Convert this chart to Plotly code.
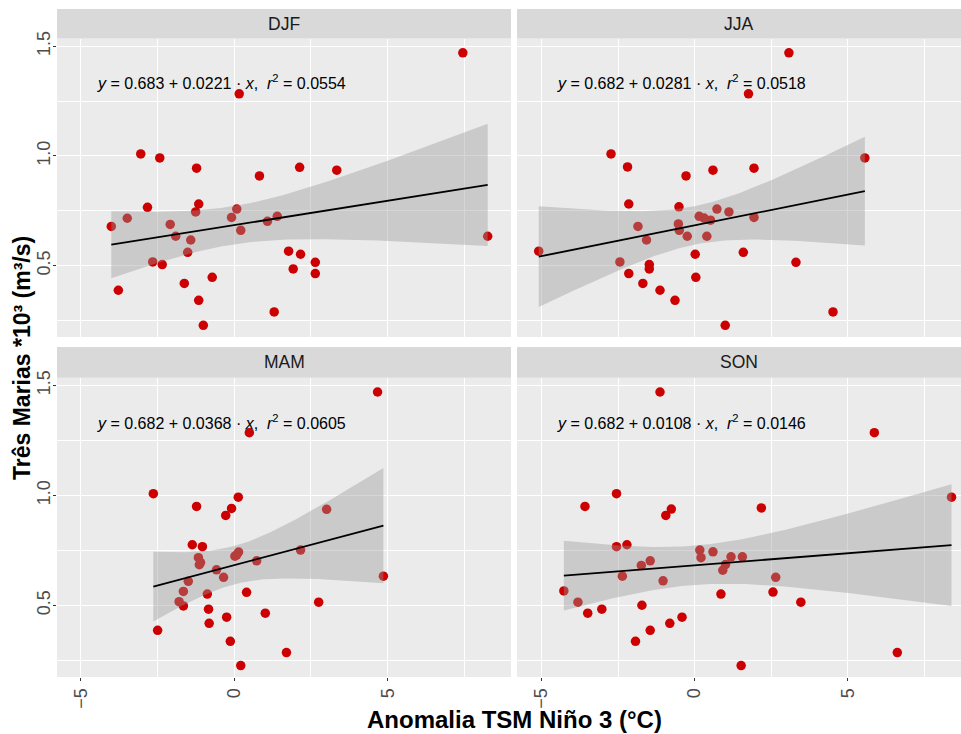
import numpy as np
import plotly.graph_objects as go

# ---------------- data ----------------
seasons = ["DJF", "JJA", "MAM", "SON"]

djf_x = [7.45, 0.16, -3.05, -2.43, -1.23, 2.13, 3.34, 0.82, -2.83, -1.16, -1.26, 0.08,
         -4.01, -3.49, -2.09, -0.09, -1.91, -1.42, 0.21, 1.08, 1.40, 8.26, -1.52, 1.77,
         2.16, 2.64, -2.66, -2.35, 1.92, 2.64, -0.72, -1.63, -3.78, -1.16, 1.30, -1.01]
djf_y = [1.47, 1.283, 1.009, 0.991, 0.944, 0.948, 0.935, 0.909, 0.766, 0.781, 0.745, 0.758,
         0.679, 0.716, 0.688, 0.720, 0.634, 0.617, 0.661, 0.702, 0.725, 0.634, 0.561, 0.566,
         0.552, 0.515, 0.517, 0.505, 0.485, 0.464, 0.447, 0.419, 0.388, 0.342, 0.289, 0.228]

jja_x = [3.08, 1.76, -2.73, -2.19, 5.56, -0.28, 0.60, 1.94, -2.15, -0.51, 0.73, 1.12,
         0.15, 0.31, 0.52, 1.94, -1.85, -0.53, -0.50, -1.57, -0.24, 0.40, -5.09, 1.59,
         0.02, 3.31, -2.44, -1.48, -1.48, -2.15, 0.04, -1.69, -1.13, -0.64, 4.52, 1.00]
jja_y = [1.47, 1.283, 1.009, 0.950, 0.991, 0.909, 0.935, 0.944, 0.781, 0.768, 0.758, 0.745,
         0.725, 0.717, 0.707, 0.720, 0.679, 0.690, 0.661, 0.617, 0.634, 0.634, 0.566, 0.561,
         0.552, 0.515, 0.517, 0.505, 0.485, 0.464, 0.447, 0.419, 0.388, 0.342, 0.289, 0.228]

mam_x = [4.67, 0.49, -2.64, 0.13, -1.23, -0.09, -0.28, 3.01, -1.37, -1.04, 2.16, 0.14,
         0.02, -1.17, -1.14, 0.73, -0.58, -0.35, -1.50, 4.86, -1.66, 0.40, -0.88, -1.80,
         2.75, -1.66, -0.84, 1.01, -0.25, -0.82, -2.50, -0.13, 1.70, 0.21, 0.08, -1.10]
mam_y = [1.47, 1.285, 1.008, 0.992, 0.950, 0.941, 0.909, 0.937, 0.776, 0.767, 0.752, 0.743,
         0.724, 0.717, 0.685, 0.703, 0.662, 0.628, 0.610, 0.633, 0.564, 0.560, 0.552, 0.517,
         0.515, 0.498, 0.483, 0.465, 0.447, 0.419, 0.387, 0.337, 0.286, 0.227, 0.730, 0.695]

son_x = [-1.13, 5.87, -2.55, -3.58, 8.39, -0.76, -0.94, 2.18, -2.55, -2.21, 0.17, 0.60,
         0.21, 1.19, 1.56, -1.45, -1.74, 1.01, 0.92, -2.36, 2.65, -1.03, -4.27, 0.86,
         2.56, -3.81, 3.47, -3.03, -1.72, -3.49, -0.41, -0.81, -1.45, -1.93, 6.62, 1.52]
son_y = [1.47, 1.285, 1.008, 0.950, 0.992, 0.938, 0.909, 0.943, 0.767, 0.776, 0.752, 0.744,
         0.717, 0.721, 0.721, 0.703, 0.682, 0.686, 0.660, 0.633, 0.628, 0.612, 0.566, 0.552,
         0.561, 0.515, 0.515, 0.483, 0.501, 0.465, 0.447, 0.419, 0.387, 0.337, 0.286, 0.227]

eq_intercept = ["0.683", "0.682", "0.682", "0.682"]
eq_slope = ["0.0221", "0.0281", "0.0368", "0.0108"]
eq_r2 = ["0.0554", "0.0518", "0.0605", "0.0146"]

x_ticks = [-5, 0, 5]
y_ticks = [0.5, 1.0, 1.5]

series = {"DJF": (djf_x, djf_y), "JJA": (jja_x, jja_y),
          "MAM": (mam_x, mam_y), "SON": (son_x, son_y)}

# ---------------- layout geometry ----------------
W, H = 961, 734
FONT = "Arial, Liberation Sans, sans-serif"
T_CRIT = 2.03

def px_x(p):
    return p / W

def px_y(p):
    return 1 - p / H

col_dom = [[px_x(57), px_x(511)], [px_x(517), 1.0]]
row_dom = [[px_y(337), px_y(38.5)], [px_y(677), px_y(377.7)]]
strip_y = [[px_y(38.5), px_y(9)], [px_y(377.7), px_y(347)]]
x_ranges = [[-5.78, 9.02], [-5.80, 8.70]]
y_range = [0.175, 1.535]

fig = go.Figure()
annotations = []
shapes = []

for i, season in enumerate(seasons):
    r, c = divmod(i, 2)
    k = i + 1
    xa = "x" if k == 1 else f"x{k}"
    ya = "y" if k == 1 else f"y{k}"
    xs = np.array(series[season][0], dtype=float)
    ys = np.array(series[season][1], dtype=float)

    fig.add_trace(go.Scatter(x=xs, y=ys, mode="markers", xaxis=xa, yaxis=ya,
                             marker=dict(color="#CC0000", size=9.5, line=dict(width=0)),
                             showlegend=False, hoverinfo="skip"))

    # linear fit with 95% confidence band (like geom_smooth(method="lm"))
    n = len(xs)
    b1, b0 = np.polyfit(xs, ys, 1)
    resid = ys - (b0 + b1 * xs)
    s = np.sqrt(np.sum(resid ** 2) / (n - 2))
    xbar = xs.mean()
    sxx = np.sum((xs - xbar) ** 2)
    xg = np.linspace(xs.min(), xs.max(), 80)
    yg = b0 + b1 * xg
    se = s * np.sqrt(1 / n + (xg - xbar) ** 2 / sxx)
    lo, hi = yg - T_CRIT * se, yg + T_CRIT * se

    fig.add_trace(go.Scatter(x=np.concatenate([xg, xg[::-1]]),
                             y=np.concatenate([hi, lo[::-1]]),
                             fill="toself", fillcolor="rgba(153,153,153,0.4)",
                             line=dict(width=0), mode="lines", xaxis=xa, yaxis=ya,
                             showlegend=False, hoverinfo="skip"))
    fig.add_trace(go.Scatter(x=xg, y=yg, mode="lines", xaxis=xa, yaxis=ya,
                             line=dict(color="black", width=1.8),
                             showlegend=False, hoverinfo="skip"))

    eq = (f"<i>y</i> = {eq_intercept[i]} + {eq_slope[i]} · <i>x</i>,  "
          f"<i>r</i><sup>2</sup> = {eq_r2[i]}")
    annotations.append(dict(x=-4.55, y=1.335, xref=xa, yref=ya, text=eq,
                            showarrow=False, xanchor="left", yanchor="middle",
                            font=dict(family=FONT, size=16, color="black")))

    # strip
    shapes.append(dict(type="rect", xref="paper", yref="paper",
                       x0=col_dom[c][0], x1=col_dom[c][1],
                       y0=strip_y[r][0], y1=strip_y[r][1],
                       fillcolor="#D9D9D9", line=dict(width=0), layer="below"))
    annotations.append(dict(x=(col_dom[c][0] + min(col_dom[c][1], px_x(511 + c * 460))) / 2,
                            y=(strip_y[r][0] + strip_y[r][1]) / 2,
                            xref="paper", yref="paper", text=season, showarrow=False,
                            xanchor="center", yanchor="middle",
                            font=dict(family=FONT, size=17.5, color="#1A1A1A")))

    xaxis = dict(domain=col_dom[c], range=x_ranges[c], anchor=ya, automargin=False,
                 tickvals=x_ticks, ticktext=[("−" + str(-v)) if v < 0 else str(v) for v in x_ticks],
                 showticklabels=(r == 1), ticks="outside" if r == 1 else "",
                 ticklen=3, tickwidth=1, tickcolor="#333333", tickangle=-90,
                 tickfont=dict(family=FONT, size=18, color="#4D4D4D"),
                 showgrid=True, gridcolor="white", gridwidth=1.1,
                 minor=dict(dtick=2.5, tick0=-7.5, showgrid=True, gridcolor="white",
                            gridwidth=0.5, ticks=""),
                 zeroline=False, showline=False, fixedrange=True)
    yaxis = dict(domain=row_dom[r], range=y_range, anchor=xa, automargin=False,
                 tickvals=y_ticks, ticktext=[f"{v:.1f}" for v in y_ticks],
                 showticklabels=(c == 0), ticks="outside" if c == 0 else "",
                 ticklen=3, tickwidth=1, tickcolor="#333333", tickangle=-90,
                 ticklabelstandoff=-4,
                 tickfont=dict(family=FONT, size=18, color="#4D4D4D"),
                 showgrid=True, gridcolor="white", gridwidth=1.1,
                 minor=dict(dtick=0.25, tick0=0.25, showgrid=True, gridcolor="white",
                            gridwidth=0.5, ticks=""),
                 zeroline=False, showline=False, fixedrange=True)
    fig.update_layout(**{("xaxis" if k == 1 else f"xaxis{k}"): xaxis,
                         ("yaxis" if k == 1 else f"yaxis{k}"): yaxis})

# axis titles
annotations.append(dict(x=px_x(514), y=px_y(719), xref="paper", yref="paper",
                        text="<b>Anomalia TSM Niño 3 (°C)</b>", showarrow=False,
                        xanchor="center", yanchor="middle",
                        font=dict(family=FONT, size=24, color="black")))
annotations.append(dict(x=px_x(22), y=px_y(358), xref="paper", yref="paper",
                        text="<b>Três Marias *10³ (m³/s)</b>", showarrow=False,
                        textangle=-90, xanchor="center", yanchor="middle",
                        font=dict(family=FONT, size=23, color="black")))

fig.update_layout(width=W, height=H,
                  margin=dict(l=0, r=0, t=0, b=0, pad=0, autoexpand=False),
                  paper_bgcolor="white", plot_bgcolor="#EBEBEB",
                  annotations=annotations, shapes=shapes, showlegend=False)

fig.write_html("out.html", config={"displayModeBar": False},
               post_script="document.body.style.margin='0';document.body.style.overflow='hidden';")
